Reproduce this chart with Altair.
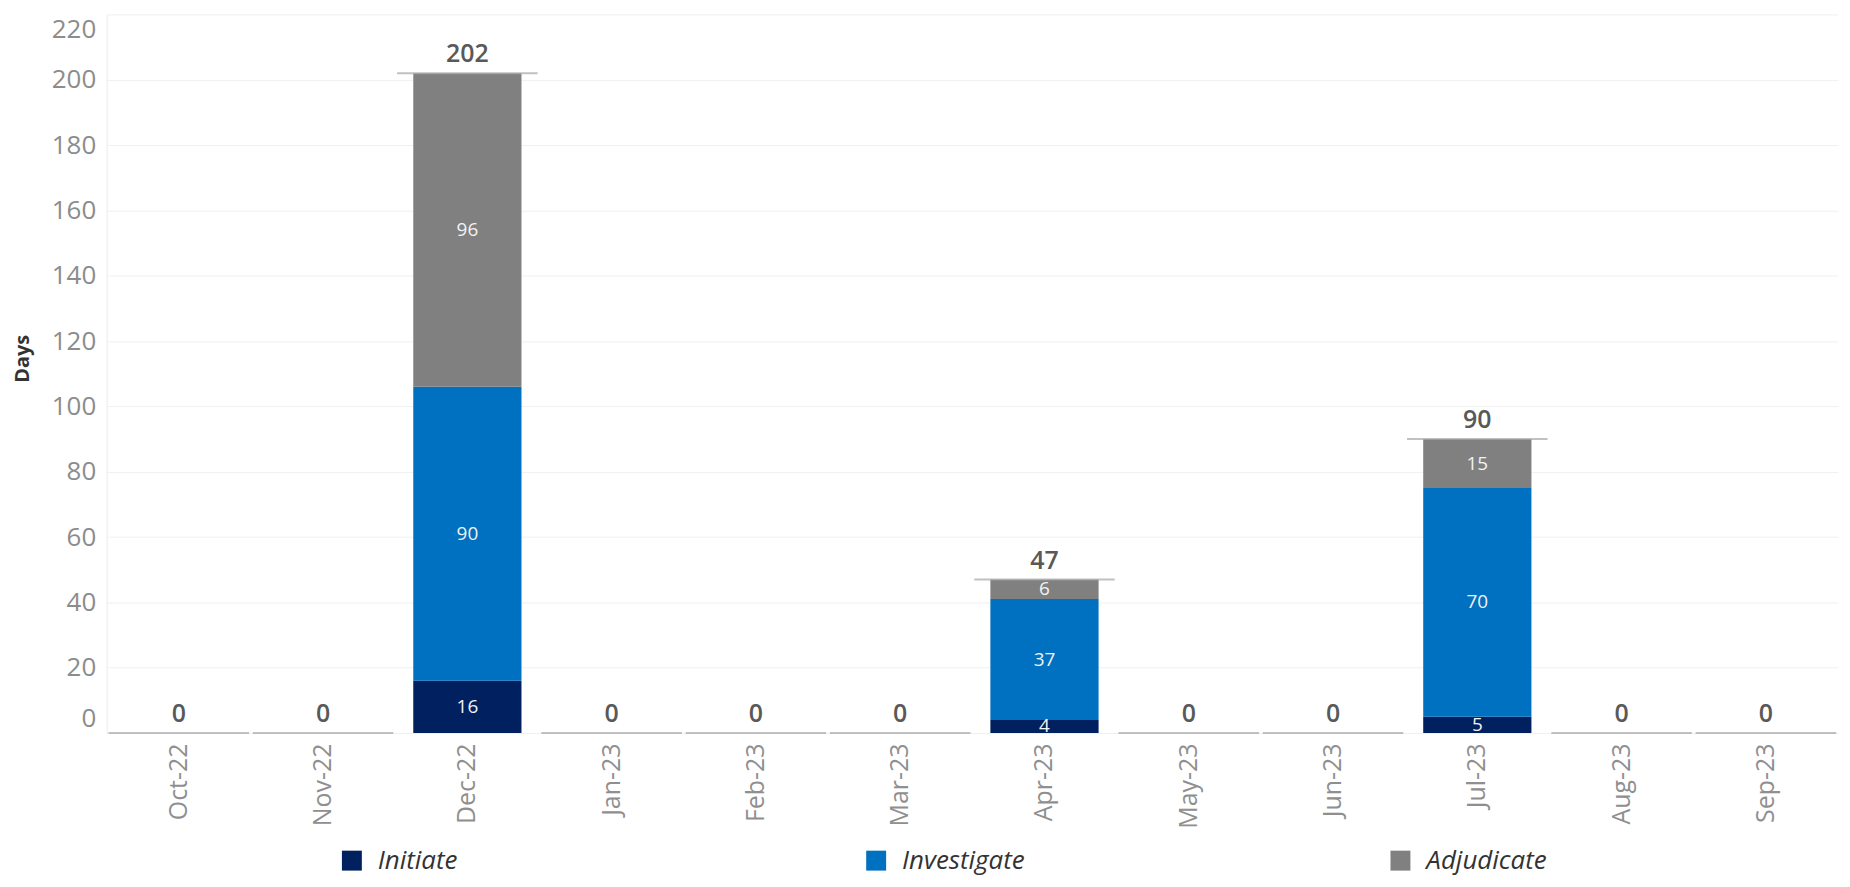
import altair as alt
import pandas as pd

months = ["Oct-22", "Nov-22", "Dec-22", "Jan-23", "Feb-23", "Mar-23",
          "Apr-23", "May-23", "Jun-23", "Jul-23", "Aug-23", "Sep-23"]
initiate = [0, 0, 16, 0, 0, 0, 4, 0, 0, 5, 0, 0]
investigate = [0, 0, 90, 0, 0, 0, 37, 0, 0, 70, 0, 0]
adjudicate = [0, 0, 96, 0, 0, 0, 6, 0, 0, 15, 0, 0]
phases = ["Initiate", "Investigate", "Adjudicate"]
colors = ["#002060", "#0070C0", "#808080"]
y_ticks = list(range(0, 221, 20))

rows = []
for i, m in enumerate(months):
    for k, vals in enumerate([initiate, investigate, adjudicate]):
        rows.append({"month": m, "phase": phases[k], "ord": k, "value": vals[i]})
df = pd.DataFrame(rows)
totals = pd.DataFrame({
    "month": months,
    "total": [a + b + c for a, b, c in zip(initiate, investigate, adjudicate)],
})

FONT = "Open Sans"

x_enc = alt.X(
    "month:N", sort=months,
    scale=alt.Scale(paddingInner=0.25, paddingOuter=0.125),
    axis=alt.Axis(title=None, labelAngle=270, labelFontSize=25, labelColor="#8f8f8f",
                  labelFont=FONT, ticks=False, domain=False, labelPadding=10,
                  labelAlign="right", labelBaseline="middle"),
)
y_scale = alt.Scale(domain=[0, 220], nice=False)
y_axis = alt.Axis(values=y_ticks, title="Days", labelFlush=True, grid=True,
                  gridColor="#f0f0f0", domainColor="#ebebeb", ticks=False,
                  labelFontSize=26, labelColor="#8c8c8c", labelFont=FONT,
                  labelPadding=11, labelFlushOffset=-2,
                  titleFontSize=20, titleFontWeight="bold",
                  titleColor="#333333", titleFont=FONT, titlePadding=19, titleY=345)

base = alt.Chart(df).transform_stack(
    stack="value", groupby=["month"], as_=["y0", "y1"],
    sort=[alt.SortField("ord", order="ascending")],
)

bars = base.mark_bar().encode(
    x=x_enc,
    y=alt.Y("y1:Q", scale=y_scale, axis=y_axis),
    y2="y0:Q",
    color=alt.Color(
        "phase:N",
        scale=alt.Scale(domain=phases, range=colors),
        legend=alt.Legend(
            title=None, orient="none", legendX=233, legendY=836,
            direction="horizontal", columns=3, gridAlign="all",
            columnPadding=363, symbolType="square", symbolSize=400,
            symbolStrokeWidth=0, labelFontSize=26, labelFontStyle="italic",
            labelColor="#333333", labelFont=FONT, labelOffset=13,
        ),
    ),
)

seg_labels = base.transform_filter("datum.value > 0").transform_calculate(
    ymid="(datum.y0 + datum.y1) / 2"
).mark_text(fontSize=19, color="#f2f2f2", font=FONT, baseline="middle").encode(
    x=x_enc,
    y=alt.Y("ymid:Q", scale=y_scale, axis=y_axis),
    text=alt.Text("value:Q"),
)

ref_lines = alt.Chart(totals).mark_tick(size=141, thickness=2, color="#a6a6a6").encode(
    x=x_enc,
    y=alt.Y("total:Q", scale=y_scale, axis=y_axis),
)

total_labels = alt.Chart(totals).mark_text(
    fontSize=25, fontWeight=600, color="#595959", font=FONT, baseline="bottom", dy=-6
).encode(
    x=x_enc,
    y=alt.Y("total:Q", scale=y_scale, axis=y_axis),
    text=alt.Text("total:Q"),
)

chart = alt.layer(bars, seg_labels, ref_lines, total_labels).properties(
    width=1737, height=721,
    autosize=alt.AutoSizeParams(type="none"),
    padding={"left": 99, "top": 5, "right": 4, "bottom": 145},
    background="white",
).configure_view(stroke=None)

chart.save("out.html", embed_options={"renderer": "svg", "actions": False})
